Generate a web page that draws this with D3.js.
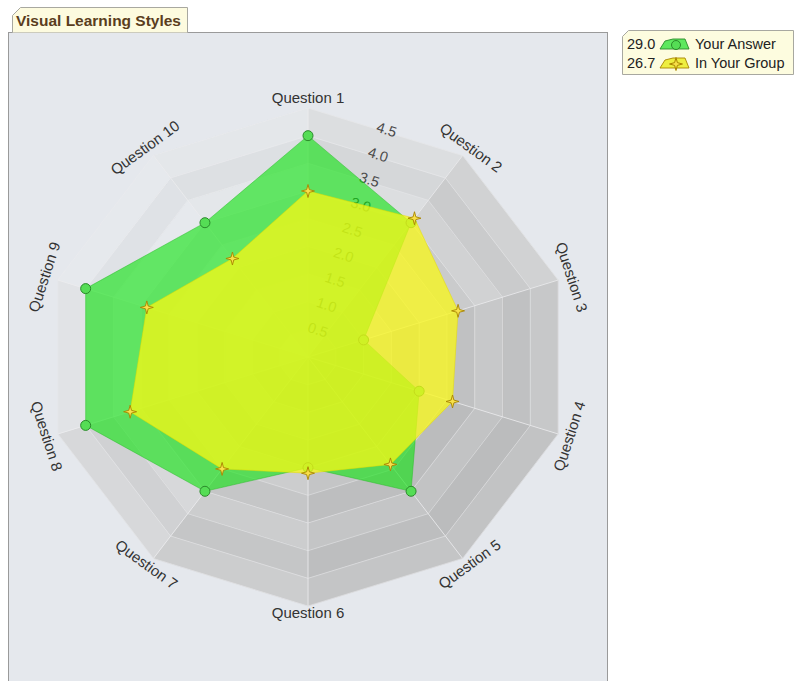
<!DOCTYPE html>
<html><head><meta charset="utf-8">
<script src="https://cdn.jsdelivr.net/npm/d3@7"></script>
<style>body{margin:0;background:#fff;} svg{display:block;}</style>
</head><body>
<svg id="chart" width="795" height="681"></svg>
<script>
const questions = ["Question 1","Question 2","Question 3","Question 4","Question 5","Question 6","Question 7","Question 8","Question 9","Question 10"];
const yourAnswer = [4, 3, 1, 2, 3, 2, 3, 4, 4, 3];
const groupAvg = [3.0, 3.1, 2.7, 2.6, 2.4, 2.1, 2.5, 3.2, 2.9, 2.2];
const scaleTicks = [0.5, 1.0, 1.5, 2.0, 2.5, 3.0, 3.5, 4.0, 4.5];
const seriesNames = ["Your Answer", "In Your Group"];
const titleText = "Visual Learning Styles";

const FONT = "Liberation Sans, Arial, sans-serif";
const svg = d3.select("#chart");
const cx = 308, cy = 357;
const maxV = 4.5;
const rx = d3.scaleLinear().domain([0, maxV]).range([0, 263]);
const ry = d3.scaleLinear().domain([0, maxV]).range([0, 249]);
const n = questions.length;
const ang = d3.scaleLinear().domain([0, n]).range([0, 2 * Math.PI]);
const pt = (i, v) => {
  const a = ang(i % n);
  return [cx + rx(v) * Math.sin(a), cy - ry(v) * Math.cos(a)];
};

// plot panel
svg.append("rect").attr("x", 8.5).attr("y", 32.5).attr("width", 599).attr("height", 660)
  .attr("fill", "#e5e8ed").attr("stroke", "#9a9a9a");

// title tab
const tab = d3.path();
tab.moveTo(12.5, 32.5); tab.lineTo(12.5, 15.5); tab.lineTo(20.5, 7.5); tab.lineTo(187.5, 7.5); tab.lineTo(187.5, 32.5);
svg.append("path").attr("d", tab.toString()).attr("fill", "#fdfbdf").attr("stroke", "#a8a8a0");
svg.append("text").attr("x", 16).attr("y", 26).text(titleText)
  .attr("font-family", FONT).attr("font-weight", "bold")
  .attr("font-size", 15).attr("fill", "#5a3d20").attr("textLength", 165).attr("lengthAdjust", "spacingAndGlyphs");

// grid bands
const gridG = svg.append("g");
const bandVals = d3.range(0, maxV, 0.5);
for (let s = 0; s < n; s++) {
  const mid = (s + 0.5) * 36;
  const c = Math.cos((mid - 315) * Math.PI / 180);
  bandVals.forEach((v0, k) => {
    const v1 = v0 + 0.5;
    let L = 212 + 18 * c - (k % 2 === 0 ? 0 : 7);
    const blue = Math.max(0, c) * 5;
    const col = d3.rgb(L, L + 1 + blue * 0.4, L + 2 + blue);
    const poly = [pt(s, v0), pt(s + 1, v0), pt(s + 1, v1), pt(s, v1)];
    gridG.append("polygon").attr("points", poly.map(p => p.join(",")).join(" "))
      .attr("fill", col).attr("stroke", col).attr("stroke-width", 0.5);
  });
}
// ring lines
scaleTicks.forEach(v => {
  gridG.append("polygon").attr("points", d3.range(n).map(i => pt(i, v).join(",")).join(" "))
    .attr("fill", "none").attr("stroke", "#ececee").attr("stroke-width", 0.8).attr("opacity", 0.6);
});
// axis lines
d3.range(n).forEach(i => {
  const p = pt(i, maxV);
  gridG.append("line").attr("x1", cx).attr("y1", cy).attr("x2", p[0]).attr("y2", p[1])
    .attr("stroke", "#ededef").attr("stroke-width", 1).attr("opacity", 0.8);
});

// scale labels along bisector between Q1 and Q2
scaleTicks.forEach(v => {
  const a = pt(0, v), b = pt(1, v);
  const x = (a[0] + b[0]) / 2 + 1, y = (a[1] + b[1]) / 2 - 1;
  svg.append("text").attr("transform", `translate(${x},${y}) rotate(18)`)
    .attr("text-anchor", "middle").attr("dominant-baseline", "middle")
    .attr("font-family", FONT).attr("font-size", 14.5)
    .attr("fill", "#4a4a4a").text(v.toFixed(1));
});

// axis labels
questions.forEach((q, i) => {
  const deg = i * 36;
  const a = ang(i);
  const x = cx + (rx(maxV) + 13) * Math.sin(a);
  const y = cy - (ry(maxV) + 8.5) * Math.cos(a);
  let rot = deg;
  if (deg > 90 && deg < 270) rot = deg - 180;
  else if (deg >= 270) rot = deg - 360;
  svg.append("text").attr("transform", `translate(${x},${y}) rotate(${rot})`)
    .attr("text-anchor", "middle").attr("dominant-baseline", "middle")
    .attr("font-family", FONT).attr("font-size", 15)
    .attr("fill", "#333").text(q);
});

const line = d3.line().curve(d3.curveLinearClosed);

// Your Answer polygon
svg.append("path").attr("d", line(yourAnswer.map((v, i) => pt(i, v))))
  .attr("fill", "rgba(10,228,10,0.6)").attr("stroke", "rgba(40,190,40,0.5)").attr("stroke-width", 1);
svg.selectAll(".c").data(yourAnswer).enter().append("circle")
  .attr("cx", (v, i) => pt(i, v)[0]).attr("cy", (v, i) => pt(i, v)[1]).attr("r", 5)
  .attr("fill", "#55dd55").attr("stroke", "#2a8a2a").attr("stroke-width", 1);

// Group polygon
svg.append("path").attr("d", line(groupAvg.map((v, i) => pt(i, v))))
  .attr("fill", "rgba(250,248,20,0.74)").attr("stroke", "rgba(230,220,0,0.5)").attr("stroke-width", 1);

const starPath = (x, y, r) => {
  const ri = r * 0.3;
  const pts = [];
  for (let k = 0; k < 8; k++) {
    const rr = k % 2 === 0 ? r : ri;
    const a = k * Math.PI / 4;
    pts.push([x + rr * Math.sin(a), y - rr * Math.cos(a)]);
  }
  return "M" + pts.map(p => p.join(",")).join("L") + "Z";
};
svg.selectAll(".s").data(groupAvg).enter().append("path")
  .attr("d", (v, i) => { const p = pt(i, v); return starPath(p[0], p[1], 6.5); })
  .attr("fill", "#f8e04a").attr("stroke", "#a88400").attr("stroke-width", 0.9);

// legend
const lg = d3.path();
lg.moveTo(622.5, 74.5); lg.lineTo(622.5, 36.5); lg.lineTo(628.5, 30.5); lg.lineTo(793.5, 30.5); lg.lineTo(793.5, 74.5); lg.closePath();
svg.append("path").attr("d", lg.toString()).attr("fill", "#fdfcdf").attr("stroke", "#a8a8a0");
const totals = [d3.sum(yourAnswer), d3.sum(groupAvg)];
const legColors = [["#55dd55", "#2a8a2a"], ["#f8e04a", "#a88400"]];
seriesNames.forEach((name, k) => {
  const y = 49 + k * 19;
  svg.append("text").attr("x", 627).attr("y", y).text(totals[k].toFixed(1))
    .attr("font-family", FONT).attr("font-size", 14.5).attr("fill", "#222");
  const ix = 663, iy = y - 5;
  const ip = [[ix - 3, iy + 5], [ix + 2, iy - 3], [ix + 10, iy - 5], [ix + 22, iy - 5], [ix + 26, iy + 5]];
  svg.append("polygon").attr("points", ip.map(p => p.join(",")).join(" "))
    .attr("fill", k === 0 ? "#5ee85e" : "#eeee40").attr("stroke", legColors[k][1]).attr("stroke-width", 0.9);
  if (k === 0) {
    svg.append("circle").attr("cx", ix + 13).attr("cy", iy + 1).attr("r", 4.5)
      .attr("fill", legColors[k][0]).attr("stroke", legColors[k][1]);
  } else {
    svg.append("path").attr("d", starPath(ix + 13, iy + 1, 6.5)).attr("fill", legColors[k][0]).attr("stroke", legColors[k][1]);
  }
  svg.append("text").attr("x", 695).attr("y", y).text(name)
    .attr("font-family", FONT).attr("font-size", 14.5).attr("fill", "#222");
});
</script>
</body></html>
